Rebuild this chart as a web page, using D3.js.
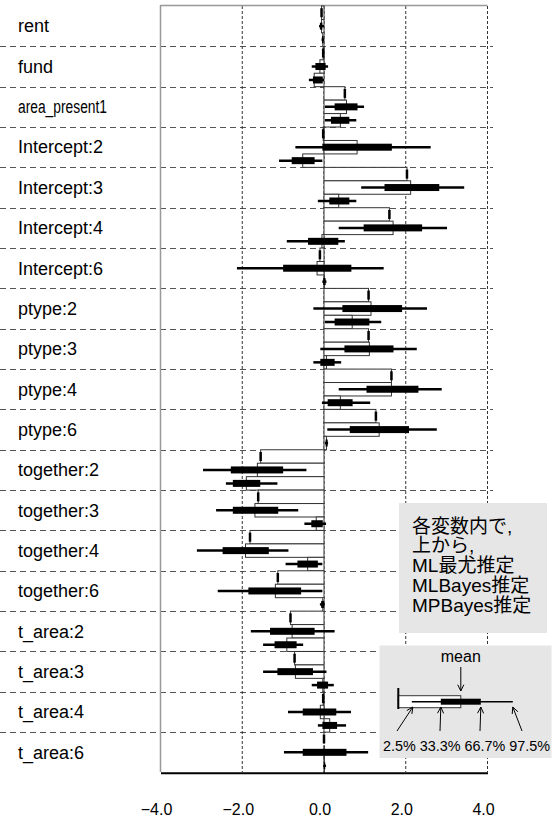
<!DOCTYPE html>
<html><head><meta charset="utf-8">
<script src="https://cdn.jsdelivr.net/npm/d3@7"></script>
<style>body{margin:0;background:#fff}svg{display:block}</style>
</head><body>
<script>
// ---- data ----
const labels = ["rent","fund","area_present1","Intercept:2","Intercept:3","Intercept:4","Intercept:6",
  "ptype:2","ptype:3","ptype:4","ptype:6","together:2","together:3","together:4","together:6",
  "t_area:2","t_area:3","t_area:4","t_area:6"];
// ML point estimates
const mlEst   = [-0.06,-0.02,0.51,-0.02,2.03,1.60,-0.10,1.09,1.09,1.65,1.27,-1.55,-1.61,-1.81,-1.13,-0.82,-0.72,-0.02,0.00];
// MLBayes: mean and quantiles
const mlbMean = [-0.06,-0.10,0.55,0.81,2.12,1.69,-0.17,1.15,1.11,1.65,1.35,-1.63,-1.69,-1.92,-1.19,-0.78,-0.70,-0.09,0.01];
const mlbQ025 = [-0.12,-0.30,0.02,-0.70,0.91,0.36,-2.13,-0.26,-0.09,0.36,0.08,-2.96,-2.64,-3.11,-2.60,-1.79,-1.49,-0.88,-0.98];
const mlbQ333 = [-0.10,-0.21,0.26,-0.04,1.48,0.97,-1.00,0.45,0.50,1.04,0.63,-2.28,-2.23,-2.48,-1.85,-1.32,-1.14,-0.52,-0.52];
const mlbQ667 = [-0.04,0.04,0.82,1.66,2.82,2.40,0.67,1.91,1.70,2.31,2.08,-1.00,-1.12,-1.35,-0.56,-0.23,-0.27,0.30,0.55];
const mlbQ975 = [0.00,0.10,0.98,2.61,3.43,3.01,1.46,2.52,2.27,2.88,2.76,-0.43,-0.63,-0.87,-0.04,0.26,0.06,0.66,1.08];
// MPBayes: mean and quantiles
const mpbMean = [-0.03,-0.24,0.40,-0.52,0.36,-0.05,0.01,0.69,0.06,0.40,0.06,-1.90,-0.19,-0.40,-0.03,-0.91,-0.03,0.14,0.01];
const mpbQ025 = [-0.06,-0.37,0.02,-1.10,-0.15,-0.91,-0.04,0.02,-0.26,-0.05,0.02,-2.40,-0.48,-0.94,-0.10,-1.49,-0.30,-0.15,-0.02];
const mpbQ333 = [-0.05,-0.27,0.17,-0.79,0.13,-0.39,-0.02,0.26,-0.09,0.09,0.04,-2.23,-0.31,-0.65,-0.07,-1.21,-0.17,-0.04,0.00];
const mpbQ667 = [-0.01,-0.03,0.62,-0.23,0.62,0.35,0.04,1.11,0.26,0.70,0.09,-1.56,-0.03,-0.15,0.00,-0.67,0.10,0.32,0.03];
const mpbQ975 = [0.00,0.00,0.79,-0.04,0.79,0.51,0.06,1.40,0.42,1.13,0.10,-1.14,0.05,-0.04,0.02,-0.51,0.24,0.54,0.05];
const xTicks = [-4,-2,0,2,4];
const noteLines = ["各変数内で,","上から,","ML最尤推定","MLBayes推定","MPBayes推定"];
// legend schematic example (arbitrary units)
const legMean = 2.5;
const legQ = [0.54,1.70,3.30,4.58];
const legQLabels = ["2.5%","33.3%","66.7%","97.5%"];

// ---- layout ----
const W = 556, H = 821;
const svg = d3.select("body").append("svg").attr("width", W).attr("height", H)
  .style("font-family","'Liberation Sans', Arial, sans-serif");
const x = d3.scaleLinear().domain([-4,4]).range([160.5,487.5]);
const y = d3.scaleBand().domain(labels).range([6,772.5]);
const sub = d3.scaleBand().domain([0,1,2]).range([0,y.bandwidth()]);

// horizontal separators
svg.append("g").selectAll("line").data(labels.slice(1)).join("line")
  .attr("x1",0).attr("x2",493)
  .attr("y1",d=>Math.round(y(d))+0.5).attr("y2",d=>Math.round(y(d))+0.5)
  .attr("stroke","#555").attr("stroke-width",1.2).attr("stroke-dasharray","6,4");

// vertical gridlines
svg.append("g").selectAll("line").data(xTicks.slice(1)).join("line")
  .attr("x1",d=>x(d)).attr("x2",d=>x(d)).attr("y1",6).attr("y2",772)
  .attr("stroke","#333").attr("stroke-width",1).attr("stroke-dasharray","3,2");

// frame (left, top)
svg.append("line").attr("x1",x(-4)).attr("x2",x(-4)).attr("y1",5).attr("y2",772)
  .attr("stroke","#999").attr("stroke-width",1.5);
svg.append("line").attr("x1",x(-4)).attr("x2",x(4)).attr("y1",5.5).attr("y2",5.5)
  .attr("stroke","#999").attr("stroke-width",1.5);

// items
const items = labels.flatMap((lab,i)=>[
  {lab, j:0, mean:mlEst[i], q:null},
  {lab, j:1, mean:mlbMean[i], q:[mlbQ025[i],mlbQ333[i],mlbQ667[i],mlbQ975[i]]},
  {lab, j:2, mean:mpbMean[i], q:[mpbQ025[i],mpbQ333[i],mpbQ667[i],mpbQ975[i]]}
]);
const gI = svg.append("g");
items.forEach(d=>{
  const top = y(d.lab)+sub(d.j), h = sub.bandwidth(), yc = top+h/2;
  const x0 = x(0), xm = x(d.mean);
  gI.append("rect").attr("x",Math.min(x0,xm)).attr("y",top)
    .attr("width",Math.abs(xm-x0)).attr("height",h)
    .attr("fill","#fff").attr("stroke","#333").attr("stroke-width",1);
  if (d.q) {
    gI.append("line").attr("x1",x(d.q[0])).attr("x2",x(d.q[3])).attr("y1",yc).attr("y2",yc)
      .attr("stroke","#000").attr("stroke-width",2.5);
    gI.append("rect").attr("x",x(d.q[1])).attr("y",yc-3.5)
      .attr("width",x(d.q[2])-x(d.q[1])).attr("height",7).attr("fill","#000");
  } else {
    gI.append("rect").attr("x",xm-1.25).attr("y",yc-4.5).attr("width",2.5).attr("height",9).attr("fill","#000");
  }
});

// row labels
svg.append("g").selectAll("text").data(labels).join("text")
  .attr("x",18).attr("y",d=>y(d)+y.bandwidth()/2).attr("dy","0.35em")
  .attr("font-size",18).attr("fill","#000").text(d=>d)
  .each(function(){ const w=this.getComputedTextLength(); if(w>89){ d3.select(this).attr("textLength",89).attr("lengthAdjust","spacingAndGlyphs"); } });

// bottom axis
const ax = svg.append("g").attr("transform","translate(0,772.7)")
  .call(d3.axisBottom(x).tickValues(xTicks).tickFormat(d3.format(".1f")).tickSizeInner(0).tickSizeOuter(0).tickPadding(31));
ax.select(".domain").attr("stroke","#000").attr("stroke-width",2);
ax.selectAll("text").attr("font-size",16).attr("font-family","'Liberation Sans', Arial, sans-serif").attr("fill","#000").attr("dx",-4.5);

// note box
svg.append("rect").attr("x",399).attr("y",503).attr("width",148).attr("height",130).attr("fill","#e6e6e6");
svg.append("g").selectAll("text").data(noteLines).join("text")
  .attr("x",412).attr("y",(d,i)=>532.5+i*19.9)
  .attr("font-size",19).attr("font-family","'Liberation Sans','Noto Sans CJK JP',sans-serif")
  .attr("fill","#000").text(d=>d);

// legend box
svg.append("rect").attr("x",379.5).attr("y",645.5).attr("width",172).attr("height",112.5).attr("fill","#e6e6e6");
const lx = d3.scaleLinear().domain([0,1]).range([398.3,423.3]);
const lg = svg.append("g");
const lyc = 701.7;
lg.append("rect").attr("x",lx(0)).attr("y",lyc-6).attr("width",lx(legMean)-lx(0)).attr("height",12)
  .attr("fill","#fff").attr("stroke","#333").attr("stroke-width",1);
lg.append("line").attr("x1",lx(0)).attr("x2",lx(0)).attr("y1",688).attr("y2",709).attr("stroke","#000").attr("stroke-width",2);
lg.append("line").attr("x1",lx(legQ[0])).attr("x2",lx(legQ[3])).attr("y1",lyc).attr("y2",lyc).attr("stroke","#000").attr("stroke-width",1.5);
lg.append("rect").attr("x",lx(legQ[1])).attr("y",lyc-3).attr("width",lx(legQ[2])-lx(legQ[1])).attr("height",6).attr("fill","#000");
lg.append("text").attr("x",lx(legMean)).attr("y",662).attr("text-anchor","middle").attr("font-size",16).text("mean");
function arrow(x1,y1,x2,y2){
  const a = Math.atan2(y2-y1,x2-x1), L=7, s=0.45;
  lg.append("path").attr("d",`M${x1},${y1}L${x2},${y2}M${x2-L*Math.cos(a-s)},${y2-L*Math.sin(a-s)}L${x2},${y2}L${x2-L*Math.cos(a+s)},${y2-L*Math.sin(a+s)}`)
    .attr("fill","none").attr("stroke","#000").attr("stroke-width",1);
}
arrow(lx(legMean),667,lx(legMean),691);
const labX = [397, 440, 480, 522];
legQ.forEach((q,i)=>{ arrow(labX[i],731, lx(q)+(i===0?1:0), 707); });
lg.append("text").attr("x",383).attr("y",751).attr("font-size",15)
  .attr("textLength",167).attr("lengthAdjust","spacingAndGlyphs")
  .text(legQLabels.join(" "));
</script>
</body></html>
